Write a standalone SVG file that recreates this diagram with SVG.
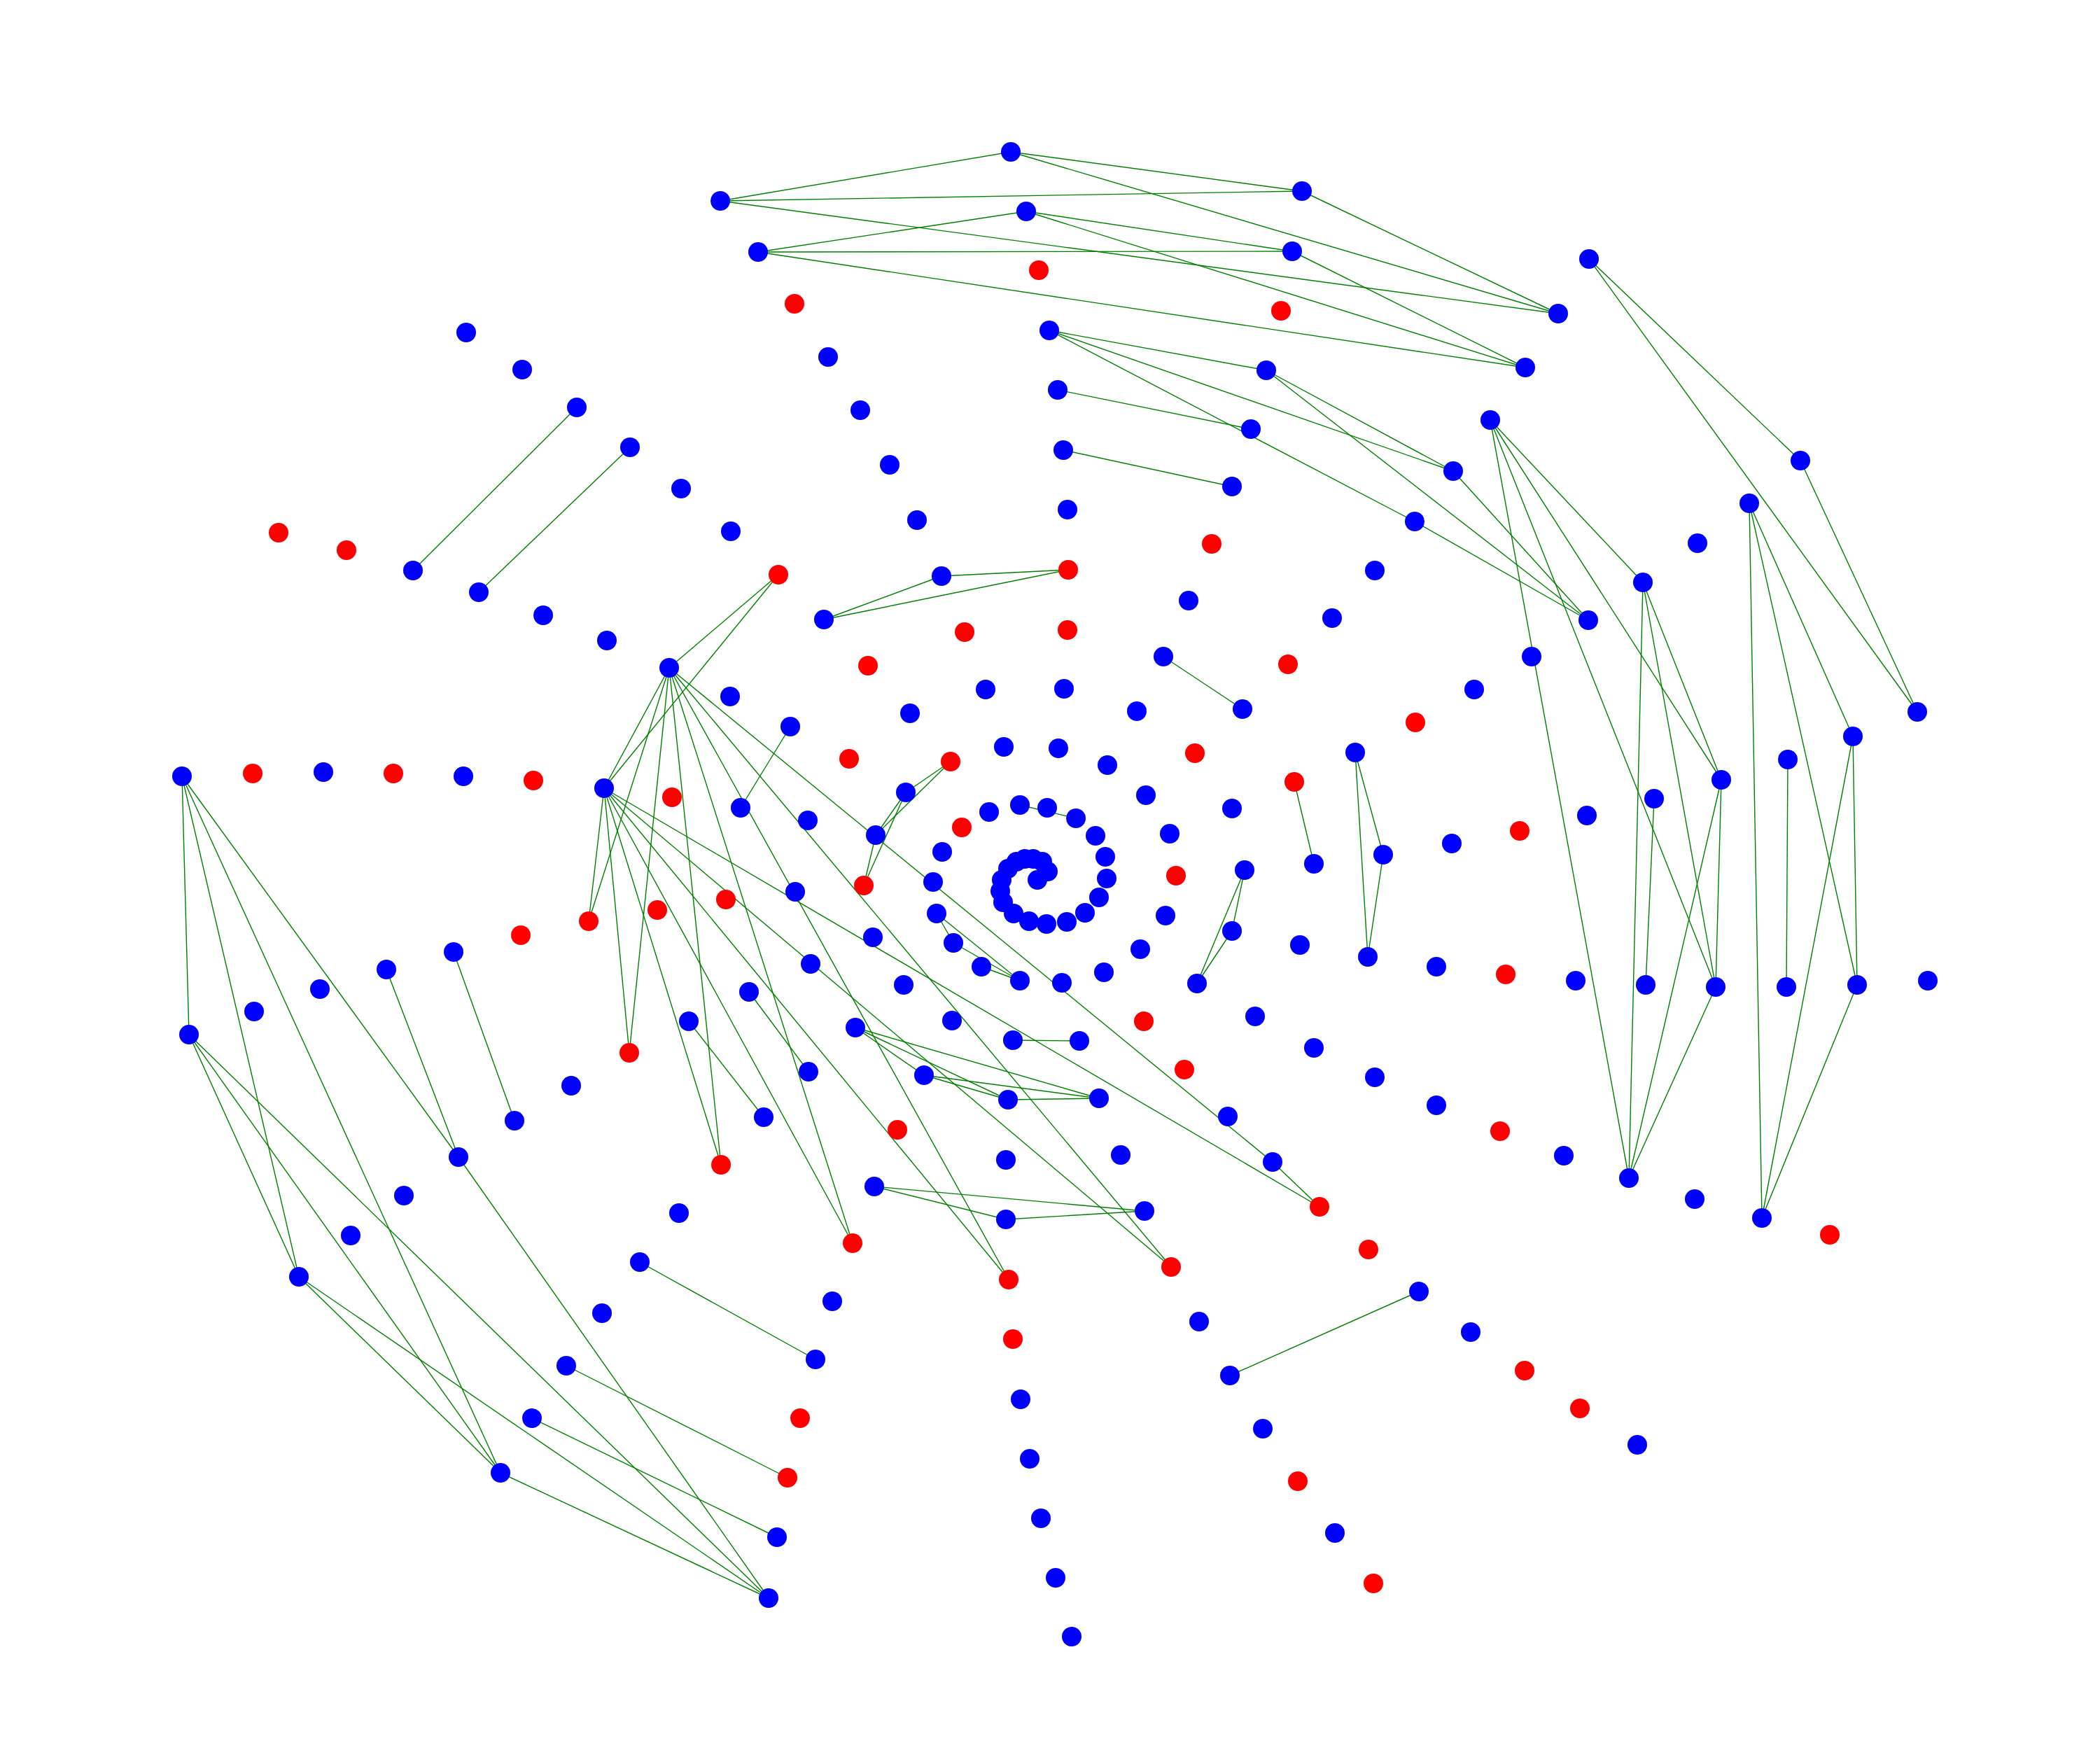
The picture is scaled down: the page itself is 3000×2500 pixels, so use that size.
<svg xmlns="http://www.w3.org/2000/svg" width="3000" height="2500" viewBox="0 0 3000 2500">
<style>
.b{fill:#0000ff}
.r{fill:#ff0000}
#edges line{stroke:#008000;stroke-width:1.4}
</style>
<rect width="3000" height="2500" fill="#ffffff"/>
<g id="edges">
<line x1="1444" y1="217" x2="1029" y2="287"/>
<line x1="1444" y1="217" x2="1860" y2="273"/>
<line x1="1444" y1="217" x2="2226" y2="448"/>
<line x1="1029" y1="287" x2="1860" y2="273"/>
<line x1="1029" y1="287" x2="2226" y2="448"/>
<line x1="1860" y1="273" x2="2226" y2="448"/>
<line x1="1466" y1="302" x2="1083" y2="360"/>
<line x1="1466" y1="302" x2="1846" y2="359"/>
<line x1="1466" y1="302" x2="2179" y2="525"/>
<line x1="1083" y1="360" x2="1846" y2="359"/>
<line x1="1083" y1="360" x2="2179" y2="525"/>
<line x1="1846" y1="359" x2="2179" y2="525"/>
<line x1="1499" y1="472" x2="1809" y2="529"/>
<line x1="1499" y1="472" x2="2076" y2="673"/>
<line x1="1499" y1="472" x2="2021" y2="745"/>
<line x1="1809" y1="529" x2="2076" y2="673"/>
<line x1="1809" y1="529" x2="2269" y2="886"/>
<line x1="2076" y1="673" x2="2269" y2="886"/>
<line x1="2021" y1="745" x2="2269" y2="886"/>
<line x1="2270" y1="370" x2="2572" y2="658"/>
<line x1="2270" y1="370" x2="2739" y2="1017"/>
<line x1="2572" y1="658" x2="2739" y2="1017"/>
<line x1="2499" y1="719" x2="2647" y2="1052"/>
<line x1="2499" y1="719" x2="2653" y2="1407"/>
<line x1="2499" y1="719" x2="2517" y2="1740"/>
<line x1="2647" y1="1052" x2="2653" y2="1407"/>
<line x1="2647" y1="1052" x2="2517" y2="1740"/>
<line x1="2653" y1="1407" x2="2517" y2="1740"/>
<line x1="2129" y1="600" x2="2347" y2="832"/>
<line x1="2129" y1="600" x2="2459" y2="1114"/>
<line x1="2129" y1="600" x2="2451" y2="1410"/>
<line x1="2129" y1="600" x2="2327" y2="1683"/>
<line x1="2347" y1="832" x2="2459" y2="1114"/>
<line x1="2347" y1="832" x2="2451" y2="1410"/>
<line x1="2347" y1="832" x2="2327" y2="1683"/>
<line x1="2459" y1="1114" x2="2451" y2="1410"/>
<line x1="2459" y1="1114" x2="2327" y2="1683"/>
<line x1="2451" y1="1410" x2="2327" y2="1683"/>
<line x1="2554" y1="1085" x2="2552" y2="1410"/>
<line x1="2363" y1="1141" x2="2351" y2="1407"/>
<line x1="1511" y1="557" x2="1787" y2="613"/>
<line x1="1519" y1="643" x2="1760" y2="695"/>
<line x1="1345" y1="823" x2="1526" y2="814"/>
<line x1="1345" y1="823" x2="1177" y2="885"/>
<line x1="1177" y1="885" x2="1526" y2="814"/>
<line x1="1662" y1="938" x2="1775" y2="1013"/>
<line x1="1849" y1="1117" x2="1877" y2="1234"/>
<line x1="1936" y1="1075" x2="1976" y2="1221"/>
<line x1="1936" y1="1075" x2="1954" y2="1367"/>
<line x1="1976" y1="1221" x2="1954" y2="1367"/>
<line x1="1778" y1="1243" x2="1760" y2="1330"/>
<line x1="1778" y1="1243" x2="1710" y2="1405"/>
<line x1="1760" y1="1330" x2="1710" y2="1405"/>
<line x1="1129" y1="1038" x2="1058" y2="1154"/>
<line x1="1294" y1="1132" x2="1358" y2="1088"/>
<line x1="1251" y1="1193" x2="1358" y2="1088"/>
<line x1="1294" y1="1132" x2="1251" y2="1193"/>
<line x1="1294" y1="1132" x2="1234" y2="1265"/>
<line x1="1251" y1="1193" x2="1234" y2="1265"/>
<line x1="1457" y1="1150" x2="1537" y2="1169"/>
<line x1="1338" y1="1305" x2="1362" y2="1347"/>
<line x1="1338" y1="1305" x2="1457" y2="1401"/>
<line x1="1362" y1="1347" x2="1457" y2="1401"/>
<line x1="1402" y1="1381" x2="1457" y2="1401"/>
<line x1="1447" y1="1486" x2="1542" y2="1487"/>
<line x1="1222" y1="1468" x2="1320" y2="1536"/>
<line x1="1222" y1="1468" x2="1440" y2="1571"/>
<line x1="1222" y1="1468" x2="1570" y2="1569"/>
<line x1="1320" y1="1536" x2="1440" y2="1571"/>
<line x1="1320" y1="1536" x2="1570" y2="1569"/>
<line x1="1440" y1="1571" x2="1570" y2="1569"/>
<line x1="1070" y1="1417" x2="1155" y2="1531"/>
<line x1="984" y1="1459" x2="1091" y2="1596"/>
<line x1="1249" y1="1695" x2="1437" y2="1742"/>
<line x1="1249" y1="1695" x2="1635" y2="1730"/>
<line x1="1437" y1="1742" x2="1635" y2="1730"/>
<line x1="2027" y1="1845" x2="1757" y2="1965"/>
<line x1="1818" y1="1660" x2="1885" y2="1724"/>
<line x1="956" y1="954" x2="1112" y2="821"/>
<line x1="956" y1="954" x2="863" y2="1126"/>
<line x1="956" y1="954" x2="841" y2="1316"/>
<line x1="956" y1="954" x2="899" y2="1504"/>
<line x1="956" y1="954" x2="1030" y2="1664"/>
<line x1="956" y1="954" x2="1218" y2="1776"/>
<line x1="956" y1="954" x2="1441" y2="1828"/>
<line x1="956" y1="954" x2="1673" y2="1810"/>
<line x1="956" y1="954" x2="1818" y2="1660"/>
<line x1="863" y1="1126" x2="1112" y2="821"/>
<line x1="863" y1="1126" x2="841" y2="1316"/>
<line x1="863" y1="1126" x2="899" y2="1504"/>
<line x1="863" y1="1126" x2="1030" y2="1664"/>
<line x1="863" y1="1126" x2="1218" y2="1776"/>
<line x1="863" y1="1126" x2="1441" y2="1828"/>
<line x1="863" y1="1126" x2="1673" y2="1810"/>
<line x1="863" y1="1126" x2="1885" y2="1724"/>
<line x1="824" y1="582" x2="590" y2="815"/>
<line x1="900" y1="639" x2="684" y2="846"/>
<line x1="648" y1="1360" x2="735" y2="1601"/>
<line x1="552" y1="1385" x2="655" y2="1653"/>
<line x1="260" y1="1109" x2="270" y2="1478"/>
<line x1="260" y1="1109" x2="427" y2="1824"/>
<line x1="260" y1="1109" x2="715" y2="2104"/>
<line x1="260" y1="1109" x2="655" y2="1653"/>
<line x1="270" y1="1478" x2="427" y2="1824"/>
<line x1="270" y1="1478" x2="715" y2="2104"/>
<line x1="270" y1="1478" x2="1098" y2="2283"/>
<line x1="427" y1="1824" x2="715" y2="2104"/>
<line x1="427" y1="1824" x2="1098" y2="2283"/>
<line x1="655" y1="1653" x2="1098" y2="2283"/>
<line x1="715" y1="2104" x2="1098" y2="2283"/>
<line x1="914" y1="1803" x2="1165" y2="1942"/>
<line x1="809" y1="1951" x2="1125" y2="2111"/>
<line x1="760" y1="2026" x2="1110" y2="2196"/>
</g>
<g id="nodes">
<g id="n1"><circle class="b" cx="1444" cy="217" r="14"/></g>
<g id="n2"><circle class="b" cx="1029" cy="287" r="14"/></g>
<g id="n3"><circle class="b" cx="1860" cy="273" r="14"/></g>
<g id="n4"><circle class="b" cx="1466" cy="302" r="14"/></g>
<g id="n5"><circle class="b" cx="1083" cy="360" r="14"/></g>
<g id="n6"><circle class="b" cx="1846" cy="359" r="14"/></g>
<g id="n7"><circle class="r" cx="1484" cy="386" r="14"/></g>
<g id="n8"><circle class="r" cx="1135" cy="434" r="14"/></g>
<g id="n9"><circle class="r" cx="1830" cy="444" r="14"/></g>
<g id="n10"><circle class="b" cx="2270" cy="370" r="14"/></g>
<g id="n11"><circle class="b" cx="2226" cy="448" r="14"/></g>
<g id="n12"><circle class="b" cx="2179" cy="525" r="14"/></g>
<g id="n13"><circle class="b" cx="1499" cy="472" r="14"/></g>
<g id="n14"><circle class="b" cx="1183" cy="510" r="14"/></g>
<g id="n15"><circle class="b" cx="1809" cy="529" r="14"/></g>
<g id="n16"><circle class="b" cx="666" cy="475" r="14"/></g>
<g id="n17"><circle class="b" cx="746" cy="528" r="14"/></g>
<g id="n18"><circle class="b" cx="824" cy="582" r="14"/></g>
<g id="n19"><circle class="b" cx="1229" cy="586" r="14"/></g>
<g id="n20"><circle class="b" cx="1511" cy="557" r="14"/></g>
<g id="n21"><circle class="b" cx="1787" cy="613" r="14"/></g>
<g id="n22"><circle class="b" cx="2129" cy="600" r="14"/></g>
<g id="n23"><circle class="b" cx="900" cy="639" r="14"/></g>
<g id="n24"><circle class="b" cx="1271" cy="664" r="14"/></g>
<g id="n25"><circle class="b" cx="1519" cy="643" r="14"/></g>
<g id="n26"><circle class="b" cx="1760" cy="695" r="14"/></g>
<g id="n27"><circle class="b" cx="2076" cy="673" r="14"/></g>
<g id="n28"><circle class="b" cx="2572" cy="658" r="14"/></g>
<g id="n29"><circle class="b" cx="2499" cy="719" r="14"/></g>
<g id="n30"><circle class="b" cx="973" cy="698" r="14"/></g>
<g id="n31"><circle class="b" cx="1310" cy="743" r="14"/></g>
<g id="n32"><circle class="b" cx="1525" cy="728" r="14"/></g>
<g id="n33"><circle class="b" cx="2021" cy="745" r="14"/></g>
<g id="n34"><circle class="r" cx="1731" cy="777" r="14"/></g>
<g id="n35"><circle class="b" cx="2425" cy="776" r="14"/></g>
<g id="n36"><circle class="r" cx="398" cy="761" r="14"/></g>
<g id="n37"><circle class="r" cx="495" cy="786" r="14"/></g>
<g id="n38"><circle class="b" cx="1044" cy="759" r="14"/></g>
<g id="n39"><circle class="b" cx="590" cy="815" r="14"/></g>
<g id="n40"><circle class="r" cx="1112" cy="821" r="14"/></g>
<g id="n41"><circle class="b" cx="684" cy="846" r="14"/></g>
<g id="n42"><circle class="b" cx="1345" cy="823" r="14"/></g>
<g id="n43"><circle class="r" cx="1526" cy="814" r="14"/></g>
<g id="n44"><circle class="b" cx="1964" cy="815" r="14"/></g>
<g id="n45"><circle class="b" cx="2347" cy="832" r="14"/></g>
<g id="n46"><circle class="b" cx="776" cy="879" r="14"/></g>
<g id="n47"><circle class="b" cx="1177" cy="885" r="14"/></g>
<g id="n48"><circle class="r" cx="1378" cy="903" r="14"/></g>
<g id="n49"><circle class="r" cx="1525" cy="900" r="14"/></g>
<g id="n50"><circle class="b" cx="1698" cy="858" r="14"/></g>
<g id="n51"><circle class="b" cx="1903" cy="883" r="14"/></g>
<g id="n52"><circle class="b" cx="2269" cy="886" r="14"/></g>
<g id="n53"><circle class="b" cx="867" cy="915" r="14"/></g>
<g id="n54"><circle class="b" cx="956" cy="954" r="14"/></g>
<g id="n55"><circle class="r" cx="1240" cy="951" r="14"/></g>
<g id="n56"><circle class="b" cx="1662" cy="938" r="14"/></g>
<g id="n57"><circle class="r" cx="1840" cy="949" r="14"/></g>
<g id="n58"><circle class="b" cx="2188" cy="938" r="14"/></g>
<g id="n59"><circle class="b" cx="1043" cy="995" r="14"/></g>
<g id="n60"><circle class="b" cx="1408" cy="985" r="14"/></g>
<g id="n61"><circle class="b" cx="1520" cy="984" r="14"/></g>
<g id="n62"><circle class="b" cx="1300" cy="1019" r="14"/></g>
<g id="n63"><circle class="b" cx="1624" cy="1016" r="14"/></g>
<g id="n64"><circle class="b" cx="1775" cy="1013" r="14"/></g>
<g id="n65"><circle class="b" cx="2106" cy="985" r="14"/></g>
<g id="n66"><circle class="b" cx="2739" cy="1017" r="14"/></g>
<g id="n67"><circle class="b" cx="1129" cy="1038" r="14"/></g>
<g id="n68"><circle class="r" cx="2022" cy="1032" r="14"/></g>
<g id="n69"><circle class="b" cx="2647" cy="1052" r="14"/></g>
<g id="n70"><circle class="b" cx="1434" cy="1067" r="14"/></g>
<g id="n71"><circle class="b" cx="1512" cy="1069" r="14"/></g>
<g id="n72"><circle class="r" cx="1707" cy="1076" r="14"/></g>
<g id="n73"><circle class="r" cx="1213" cy="1084" r="14"/></g>
<g id="n74"><circle class="r" cx="1358" cy="1088" r="14"/></g>
<g id="n75"><circle class="b" cx="1582" cy="1093" r="14"/></g>
<g id="n76"><circle class="b" cx="1936" cy="1075" r="14"/></g>
<g id="n77"><circle class="b" cx="2554" cy="1085" r="14"/></g>
<g id="n78"><circle class="b" cx="260" cy="1109" r="14"/></g>
<g id="n79"><circle class="r" cx="361" cy="1105" r="14"/></g>
<g id="n80"><circle class="b" cx="462" cy="1103" r="14"/></g>
<g id="n81"><circle class="r" cx="562" cy="1105" r="14"/></g>
<g id="n82"><circle class="b" cx="662" cy="1109" r="14"/></g>
<g id="n83"><circle class="r" cx="762" cy="1115" r="14"/></g>
<g id="n84"><circle class="b" cx="863" cy="1126" r="14"/></g>
<g id="n85"><circle class="r" cx="960" cy="1139" r="14"/></g>
<g id="n86"><circle class="b" cx="1294" cy="1132" r="14"/></g>
<g id="n87"><circle class="b" cx="1637" cy="1136" r="14"/></g>
<g id="n88"><circle class="r" cx="1849" cy="1117" r="14"/></g>
<g id="n89"><circle class="b" cx="2459" cy="1114" r="14"/></g>
<g id="n90"><circle class="b" cx="2363" cy="1141" r="14"/></g>
<g id="n91"><circle class="b" cx="1058" cy="1154" r="14"/></g>
<g id="n92"><circle class="b" cx="1154" cy="1172" r="14"/></g>
<g id="n93"><circle class="b" cx="1413" cy="1160" r="14"/></g>
<g id="n94"><circle class="b" cx="1457" cy="1150" r="14"/></g>
<g id="n95"><circle class="b" cx="1496" cy="1154" r="14"/></g>
<g id="n96"><circle class="b" cx="1537" cy="1169" r="14"/></g>
<g id="n97"><circle class="r" cx="1374" cy="1182" r="14"/></g>
<g id="n98"><circle class="b" cx="1760" cy="1155" r="14"/></g>
<g id="n99"><circle class="b" cx="2267" cy="1165" r="14"/></g>
<g id="n100"><circle class="r" cx="2171" cy="1187" r="14"/></g>
<g id="n101"><circle class="b" cx="1251" cy="1193" r="14"/></g>
<g id="n102"><circle class="b" cx="1565" cy="1194" r="14"/></g>
<g id="n103"><circle class="b" cx="1671" cy="1191" r="14"/></g>
<g id="n104"><circle class="b" cx="2074" cy="1205" r="14"/></g>
<g id="n105"><circle class="b" cx="1976" cy="1221" r="14"/></g>
<g id="n106"><circle class="b" cx="1346" cy="1217" r="14"/></g>
<g id="n107"><circle class="b" cx="1579" cy="1224" r="14"/></g>
<g id="n108"><circle class="b" cx="1877" cy="1234" r="14"/></g>
<g id="n109"><circle class="r" cx="1680" cy="1251" r="14"/></g>
<g id="n110"><circle class="b" cx="1778" cy="1243" r="14"/></g>
<g id="n111"><circle class="r" cx="1234" cy="1265" r="14"/></g>
<g id="n112"><circle class="b" cx="1333" cy="1260" r="14"/></g>
<g id="n113"><circle class="b" cx="1136" cy="1274" r="14"/></g>
<g id="n114"><circle class="r" cx="1037" cy="1285" r="14"/></g>
<g id="n115"><circle class="r" cx="939" cy="1300" r="14"/></g>
<g id="n116"><circle class="r" cx="841" cy="1316" r="14"/></g>
<g id="n117"><circle class="r" cx="744" cy="1336" r="14"/></g>
<g id="n118"><circle class="b" cx="1338" cy="1305" r="14"/></g>
<g id="n119"><circle class="b" cx="1665" cy="1308" r="14"/></g>
<g id="n120"><circle class="b" cx="1760" cy="1330" r="14"/></g>
<g id="n121"><circle class="b" cx="1247" cy="1339" r="14"/></g>
<g id="n122"><circle class="b" cx="1362" cy="1347" r="14"/></g>
<g id="n123"><circle class="b" cx="648" cy="1360" r="14"/></g>
<g id="n124"><circle class="b" cx="552" cy="1385" r="14"/></g>
<g id="n125"><circle class="b" cx="457" cy="1413" r="14"/></g>
<g id="n126"><circle class="b" cx="363" cy="1445" r="14"/></g>
<g id="n127"><circle class="b" cx="1158" cy="1377" r="14"/></g>
<g id="n128"><circle class="b" cx="1402" cy="1381" r="14"/></g>
<g id="n129"><circle class="b" cx="1457" cy="1401" r="14"/></g>
<g id="n130"><circle class="b" cx="1517" cy="1404" r="14"/></g>
<g id="n131"><circle class="b" cx="1577" cy="1389" r="14"/></g>
<g id="n132"><circle class="b" cx="1629" cy="1356" r="14"/></g>
<g id="n133"><circle class="b" cx="1710" cy="1405" r="14"/></g>
<g id="n134"><circle class="b" cx="1857" cy="1350" r="14"/></g>
<g id="n135"><circle class="b" cx="1954" cy="1367" r="14"/></g>
<g id="n136"><circle class="b" cx="2052" cy="1381" r="14"/></g>
<g id="n137"><circle class="r" cx="2151" cy="1392" r="14"/></g>
<g id="n138"><circle class="b" cx="2251" cy="1401" r="14"/></g>
<g id="n139"><circle class="b" cx="2351" cy="1407" r="14"/></g>
<g id="n140"><circle class="b" cx="2451" cy="1410" r="14"/></g>
<g id="n141"><circle class="b" cx="2552" cy="1410" r="14"/></g>
<g id="n142"><circle class="b" cx="2653" cy="1407" r="14"/></g>
<g id="n143"><circle class="b" cx="2754" cy="1401" r="14"/></g>
<g id="n144"><circle class="b" cx="1291" cy="1407" r="14"/></g>
<g id="n145"><circle class="b" cx="1070" cy="1417" r="14"/></g>
<g id="n146"><circle class="b" cx="270" cy="1478" r="14"/></g>
<g id="n147"><circle class="b" cx="984" cy="1459" r="14"/></g>
<g id="n148"><circle class="r" cx="899" cy="1504" r="14"/></g>
<g id="n149"><circle class="b" cx="1360" cy="1458" r="14"/></g>
<g id="n150"><circle class="b" cx="1222" cy="1468" r="14"/></g>
<g id="n151"><circle class="b" cx="1447" cy="1486" r="14"/></g>
<g id="n152"><circle class="b" cx="1542" cy="1487" r="14"/></g>
<g id="n153"><circle class="r" cx="1634" cy="1459" r="14"/></g>
<g id="n154"><circle class="b" cx="1793" cy="1452" r="14"/></g>
<g id="n155"><circle class="b" cx="1877" cy="1497" r="14"/></g>
<g id="n156"><circle class="r" cx="1692" cy="1528" r="14"/></g>
<g id="n157"><circle class="b" cx="816" cy="1551" r="14"/></g>
<g id="n158"><circle class="b" cx="735" cy="1601" r="14"/></g>
<g id="n159"><circle class="b" cx="1320" cy="1536" r="14"/></g>
<g id="n160"><circle class="b" cx="1155" cy="1531" r="14"/></g>
<g id="n161"><circle class="b" cx="1964" cy="1539" r="14"/></g>
<g id="n162"><circle class="b" cx="2052" cy="1579" r="14"/></g>
<g id="n163"><circle class="b" cx="1440" cy="1571" r="14"/></g>
<g id="n164"><circle class="b" cx="1570" cy="1569" r="14"/></g>
<g id="n165"><circle class="b" cx="1091" cy="1596" r="14"/></g>
<g id="n166"><circle class="b" cx="1754" cy="1595" r="14"/></g>
<g id="n167"><circle class="r" cx="1282" cy="1614" r="14"/></g>
<g id="n168"><circle class="r" cx="2143" cy="1616" r="14"/></g>
<g id="n169"><circle class="b" cx="2234" cy="1651" r="14"/></g>
<g id="n170"><circle class="b" cx="655" cy="1653" r="14"/></g>
<g id="n171"><circle class="r" cx="1030" cy="1664" r="14"/></g>
<g id="n172"><circle class="b" cx="1437" cy="1657" r="14"/></g>
<g id="n173"><circle class="b" cx="1601" cy="1650" r="14"/></g>
<g id="n174"><circle class="b" cx="1818" cy="1660" r="14"/></g>
<g id="n175"><circle class="b" cx="2327" cy="1683" r="14"/></g>
<g id="n176"><circle class="b" cx="2421" cy="1713" r="14"/></g>
<g id="n177"><circle class="b" cx="2517" cy="1740" r="14"/></g>
<g id="n178"><circle class="r" cx="2614" cy="1764" r="14"/></g>
<g id="n179"><circle class="b" cx="577" cy="1708" r="14"/></g>
<g id="n180"><circle class="b" cx="1249" cy="1695" r="14"/></g>
<g id="n181"><circle class="b" cx="1437" cy="1742" r="14"/></g>
<g id="n182"><circle class="b" cx="1635" cy="1730" r="14"/></g>
<g id="n183"><circle class="r" cx="1885" cy="1724" r="14"/></g>
<g id="n184"><circle class="b" cx="970" cy="1733" r="14"/></g>
<g id="n185"><circle class="b" cx="501" cy="1765" r="14"/></g>
<g id="n186"><circle class="r" cx="1955" cy="1785" r="14"/></g>
<g id="n187"><circle class="r" cx="1218" cy="1776" r="14"/></g>
<g id="n188"><circle class="r" cx="1673" cy="1810" r="14"/></g>
<g id="n189"><circle class="b" cx="914" cy="1803" r="14"/></g>
<g id="n190"><circle class="b" cx="427" cy="1824" r="14"/></g>
<g id="n191"><circle class="r" cx="1441" cy="1828" r="14"/></g>
<g id="n192"><circle class="b" cx="2027" cy="1845" r="14"/></g>
<g id="n193"><circle class="b" cx="1189" cy="1859" r="14"/></g>
<g id="n194"><circle class="b" cx="860" cy="1876" r="14"/></g>
<g id="n195"><circle class="b" cx="1713" cy="1888" r="14"/></g>
<g id="n196"><circle class="b" cx="2101" cy="1903" r="14"/></g>
<g id="n197"><circle class="r" cx="1447" cy="1913" r="14"/></g>
<g id="n198"><circle class="b" cx="1165" cy="1942" r="14"/></g>
<g id="n199"><circle class="b" cx="1757" cy="1965" r="14"/></g>
<g id="n200"><circle class="b" cx="809" cy="1951" r="14"/></g>
<g id="n201"><circle class="r" cx="2178" cy="1958" r="14"/></g>
<g id="n202"><circle class="r" cx="2257" cy="2012" r="14"/></g>
<g id="n203"><circle class="r" cx="1143" cy="2026" r="14"/></g>
<g id="n204"><circle class="b" cx="760" cy="2026" r="14"/></g>
<g id="n205"><circle class="b" cx="1458" cy="1999" r="14"/></g>
<g id="n206"><circle class="b" cx="1804" cy="2041" r="14"/></g>
<g id="n207"><circle class="b" cx="2339" cy="2064" r="14"/></g>
<g id="n208"><circle class="b" cx="715" cy="2104" r="14"/></g>
<g id="n209"><circle class="r" cx="1125" cy="2111" r="14"/></g>
<g id="n210"><circle class="b" cx="1471" cy="2084" r="14"/></g>
<g id="n211"><circle class="r" cx="1854" cy="2116" r="14"/></g>
<g id="n212"><circle class="b" cx="1110" cy="2196" r="14"/></g>
<g id="n213"><circle class="b" cx="1487" cy="2169" r="14"/></g>
<g id="n214"><circle class="b" cx="1907" cy="2190" r="14"/></g>
<g id="n215"><circle class="r" cx="1962" cy="2262" r="14"/></g>
<g id="n216"><circle class="b" cx="1098" cy="2283" r="14"/></g>
<g id="n217"><circle class="b" cx="1508" cy="2254" r="14"/></g>
<g id="n218"><circle class="b" cx="1531" cy="2338" r="14"/></g>
<g id="n219"><circle class="b" cx="1581" cy="1255" r="14"/></g>
<g id="n220"><circle class="b" cx="1570" cy="1282" r="14"/></g>
<g id="n221"><circle class="b" cx="1550" cy="1304" r="14"/></g>
<g id="n222"><circle class="b" cx="1524" cy="1317" r="14"/></g>
<g id="n223"><circle class="b" cx="1495" cy="1320" r="14"/></g>
<g id="n224"><circle class="b" cx="1470" cy="1316" r="14"/></g>
<g id="n225"><circle class="b" cx="1448" cy="1305" r="14"/></g>
<g id="n226"><circle class="b" cx="1433" cy="1289" r="14"/></g>
<g id="n227"><circle class="b" cx="1429" cy="1273" r="14"/></g>
<g id="n228"><circle class="b" cx="1431" cy="1257" r="14"/></g>
<g id="n229"><circle class="b" cx="1440" cy="1241" r="14"/></g>
<g id="n230"><circle class="b" cx="1452" cy="1231" r="14"/></g>
<g id="n231"><circle class="b" cx="1464" cy="1227" r="14"/></g>
<g id="n232"><circle class="b" cx="1476" cy="1227" r="14"/></g>
<g id="n233"><circle class="b" cx="1489" cy="1231" r="14"/></g>
<g id="n234"><circle class="b" cx="1497" cy="1245" r="14"/></g>
<g id="n235"><circle class="b" cx="1482" cy="1257" r="14"/></g>
</g>
</svg>
